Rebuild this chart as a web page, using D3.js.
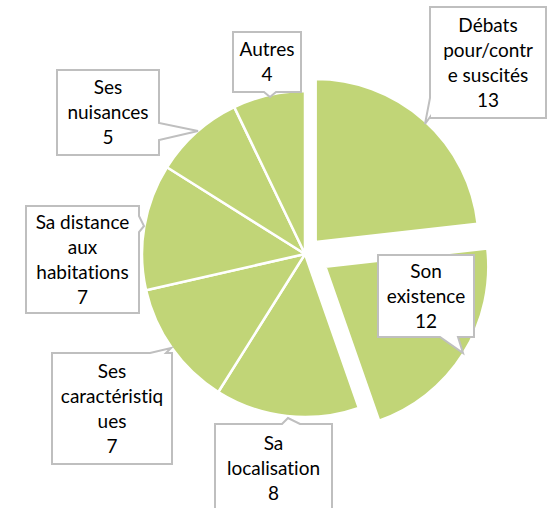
<!DOCTYPE html>
<html>
<head>
<meta charset="utf-8">
<script src="https://cdn.jsdelivr.net/npm/d3@7"></script>
<style>
  html, body { margin: 0; padding: 0; background: #fff; }
  svg { display: block; }
  text { font-family: Lato, "Open Sans", sans-serif; font-variant-ligatures: none; font-feature-settings: "liga" 0; }
</style>
</head>
<body>
<svg id="chart" width="551" height="508"></svg>
<script>
// ---- data ----
const categories = [
  "Débats pour/contre suscités",
  "Son existence",
  "Sa localisation",
  "Ses caractéristiques",
  "Sa distance aux habitations",
  "Ses nuisances",
  "Autres"
];
const values = [13, 12, 8, 7, 7, 5, 4];
// label text as wrapped in the chart
const labelLines = [
  ["Débats", "pour/contr", "e suscités"],
  ["Son", "existence"],
  ["Sa", "localisation"],
  ["Ses", "caractéristiq", "ues"],
  ["Sa distance", "aux", "habitations"],
  ["Ses", "nuisances"],
  ["Autres"]
];

// ---- layout ----
const W = 551, H = 508;
const cx = 305, cy = 254, R = 163;
const explode = [16, 24, 0, 0, 0, 0, 0];
const fillColor = "#c1d577";

// callout boxes: [x0,y0,x1,y1], wedge side, wedge base p..q, tip
const callouts = [
  { box: [430, 7, 546, 118], side: "left",   p: 98,  q: 117, tip: [425, 124] },
  { box: [378, 255, 474, 337], side: "bottom", p: 440, q: 458, tip: [463, 353] },
  { box: [215, 424, 332, 512], side: "top",  p: 282, q: 300, tip: [288, 418] },
  { box: [52, 353, 172, 464], side: "top",   p: 150, q: 166, tip: [171, 348] },
  { box: [26, 206, 139, 313], side: "right", p: 216, q: 232, tip: [144, 226] },
  { box: [57, 70, 159, 155], side: "right",  p: 123, q: 140, tip: [198, 131] },
  { box: [233, 32, 301, 92], side: "bottom", p: 264, q: 276, tip: [270, 97] }
];

const svg = d3.select("#chart");
svg.append("rect").attr("width", W).attr("height", H).attr("fill", "#fff");

const pie = d3.pie().sort(null).value(d => d).startAngle(0).endAngle(2 * Math.PI);
const arcs = pie(values);
const arc = d3.arc().innerRadius(0).outerRadius(R);

const g = svg.append("g").attr("transform", `translate(${cx},${cy})`);
g.selectAll("path.slice")
  .data(arcs)
  .join("path")
  .attr("class", "slice")
  .attr("d", arc)
  .attr("fill", fillColor)
  .attr("stroke", "#fff")
  .attr("stroke-width", 2.5)
  .attr("stroke-linejoin", "round")
  .attr("transform", (d, i) => {
    const a = (d.startAngle + d.endAngle) / 2;
    const e = explode[i];
    return `translate(${e * Math.sin(a)},${-e * Math.cos(a)})`;
  });

function calloutPath(c) {
  const [x0, y0, x1, y1] = c.box;
  const [tx, ty] = c.tip;
  const p = c.p, q = c.q;
  let s = `M${x0},${y0}`;
  if (c.side === "top") s += `L${p},${y0}L${tx},${ty}L${q},${y0}`;
  s += `L${x1},${y0}`;
  if (c.side === "right") s += `L${x1},${p}L${tx},${ty}L${x1},${q}`;
  s += `L${x1},${y1}`;
  if (c.side === "bottom") s += `L${q},${y1}L${tx},${ty}L${p},${y1}`;
  s += `L${x0},${y1}`;
  if (c.side === "left") s += `L${x0},${q}L${tx},${ty}L${x0},${p}`;
  return s + "Z";
}

const lg = svg.append("g");
callouts.forEach((c, i) => {
  lg.append("path")
    .attr("d", calloutPath(c))
    .attr("fill", "#fff")
    .attr("stroke", "#bfbfbf")
    .attr("stroke-width", 2)
    .attr("stroke-linejoin", "miter");
  const lines = labelLines[i].concat([String(values[i])]);
  const [x0, y0, x1, y1] = c.box;
  const mx = (x0 + x1) / 2, my = (y0 + y1) / 2;
  const lh = 25;
  const t = lg.append("text")
    .attr("text-anchor", "middle")
    .attr("font-size", 19)
    .attr("fill", "#000");
  lines.forEach((ln, k) => {
    t.append("tspan")
      .attr("x", mx)
      .attr("y", my + (k - (lines.length - 1) / 2) * lh)
      .attr("dy", "0.35em")
      .text(ln);
  });
});
</script>
</body>
</html>
